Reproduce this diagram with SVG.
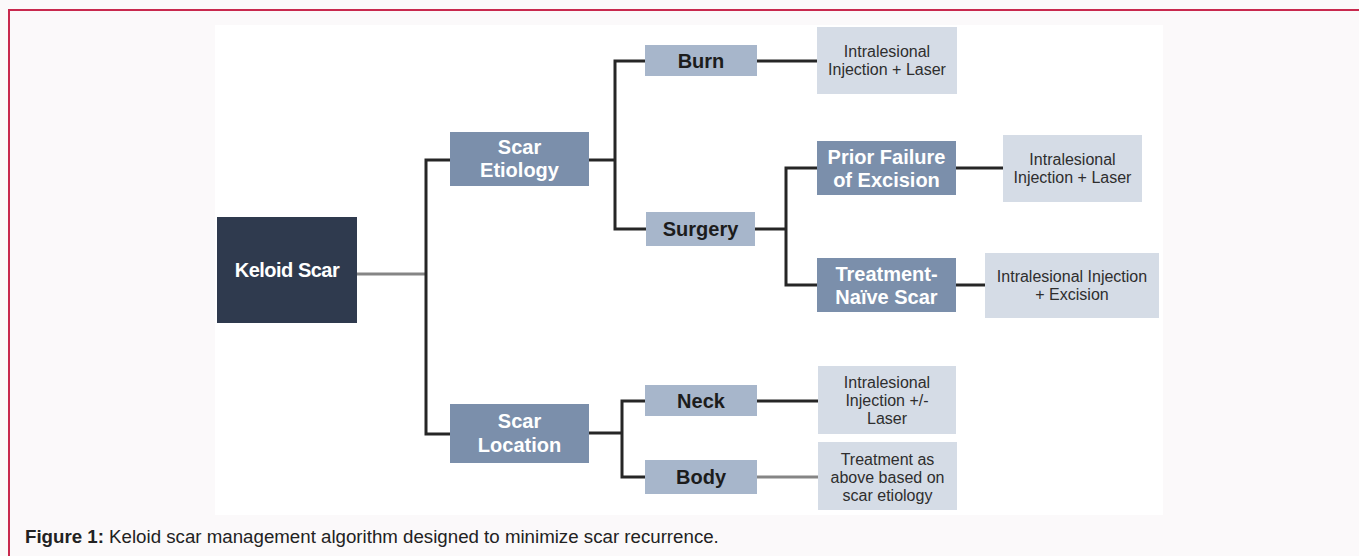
<svg xmlns="http://www.w3.org/2000/svg" width="1359" height="556" viewBox="0 0 1359 556">
<style>
.bg{fill:#fbf9fa}
.panel{fill:#ffffff}
.border{stroke:#c8294e;stroke-width:2;fill:none}
.dark{fill:#2f3a4e}
.mid{fill:#7b8fab}
.light{fill:#a7b6cb}
.res{fill:#d5dce6}
.tw{font-family:"Liberation Sans",Arial,sans-serif;font-weight:bold;font-size:20px;fill:#ffffff;text-anchor:middle}
.tk{font-family:"Liberation Sans",Arial,sans-serif;font-weight:bold;font-size:20px;fill:#1c1c1c;text-anchor:middle}
.tr{font-family:"Liberation Sans",Arial,sans-serif;font-size:16px;fill:#2e2e2e;text-anchor:middle}
.ln{stroke:#262626;stroke-width:3;fill:none}
.lg{stroke:#858585;stroke-width:3;fill:none}
.cap{font-family:"Liberation Sans",Arial,sans-serif;font-size:18.7px;fill:#222222}
</style>
<rect class="bg" x="0" y="0" width="1359" height="556"/>
<path class="border" d="M9,556 V10 H1359"/>
<rect class="panel" x="215" y="25" width="948" height="490"/>

<g id="connectors">
<line class="lg" x1="357" y1="274" x2="426" y2="274"/>
<path class="ln" d="M450,160 H426 V434 H450"/>
<line class="ln" x1="589" y1="160" x2="615" y2="160"/>
<path class="ln" d="M645,61 H615 V229 H646"/>
<line class="ln" x1="757" y1="61" x2="817" y2="61"/>
<line class="ln" x1="755" y1="229" x2="786" y2="229"/>
<path class="ln" d="M817,168 H786 V285 H817"/>
<line class="ln" x1="956" y1="168" x2="1003" y2="168"/>
<line class="ln" x1="956" y1="285" x2="985" y2="285"/>
<line class="ln" x1="589" y1="433" x2="622" y2="433"/>
<path class="ln" d="M645,401 H622 V477 H645"/>
<line class="ln" x1="757" y1="401" x2="818" y2="401"/>
<line class="lg" x1="757" y1="477" x2="818" y2="477"/>
</g>

<g id="keloid-scar">
<rect class="dark" x="217" y="217" width="140" height="106"/>
<text class="tw" x="287" y="277" letter-spacing="-0.5">Keloid Scar</text>
</g>
<g id="scar-etiology">
<rect class="mid" x="450" y="132" width="139" height="54"/>
<text class="tw" x="519.5" y="154">Scar</text>
<text class="tw" x="519.5" y="177">Etiology</text>
</g>
<g id="scar-location">
<rect class="mid" x="450" y="404" width="139" height="59"/>
<text class="tw" x="519.5" y="428">Scar</text>
<text class="tw" x="519.5" y="452">Location</text>
</g>
<g id="burn">
<rect class="light" x="645" y="45" width="112" height="31"/>
<text class="tk" x="701" y="68">Burn</text>
</g>
<g id="surgery">
<rect class="light" x="646" y="212" width="109" height="34"/>
<text class="tk" x="700.5" y="236">Surgery</text>
</g>
<g id="neck">
<rect class="light" x="645" y="385" width="112" height="31"/>
<text class="tk" x="701" y="408">Neck</text>
</g>
<g id="body">
<rect class="light" x="645" y="460" width="112" height="34"/>
<text class="tk" x="701" y="484">Body</text>
</g>
<g id="prior-failure">
<rect class="mid" x="817" y="141" width="139" height="54"/>
<text class="tw" x="886.5" y="164">Prior Failure</text>
<text class="tw" x="886.5" y="187">of Excision</text>
</g>
<g id="treatment-naive">
<rect class="mid" x="817" y="258" width="139" height="54"/>
<text class="tw" x="886.5" y="281">Treatment-</text>
<text class="tw" x="886.5" y="304">Naïve Scar</text>
</g>
<g id="result-burn">
<rect class="res" x="817" y="27" width="140" height="67"/>
<text class="tr" x="887" y="57">Intralesional</text>
<text class="tr" x="887" y="75">Injection + Laser</text>
</g>
<g id="result-prior">
<rect class="res" x="1003" y="135" width="139" height="67"/>
<text class="tr" x="1072.5" y="165">Intralesional</text>
<text class="tr" x="1072.5" y="183">Injection + Laser</text>
</g>
<g id="result-naive">
<rect class="res" x="985" y="253" width="174" height="65"/>
<text class="tr" x="1072" y="282">Intralesional Injection</text>
<text class="tr" x="1072" y="300">+ Excision</text>
</g>
<g id="result-neck">
<rect class="res" x="818" y="366" width="138" height="68"/>
<text class="tr" x="887" y="388">Intralesional</text>
<text class="tr" x="887" y="406">Injection +/-</text>
<text class="tr" x="887" y="424">Laser</text>
</g>
<g id="result-body">
<rect class="res" x="818" y="442" width="139" height="68"/>
<text class="tr" x="887.5" y="465">Treatment  as</text>
<text class="tr" x="887.5" y="483">above based on</text>
<text class="tr" x="887.5" y="501">scar etiology</text>
</g>

<text class="cap" x="25" y="543"><tspan font-weight="bold">Figure 1:</tspan> Keloid scar management algorithm designed to minimize scar recurrence.</text>
</svg>
